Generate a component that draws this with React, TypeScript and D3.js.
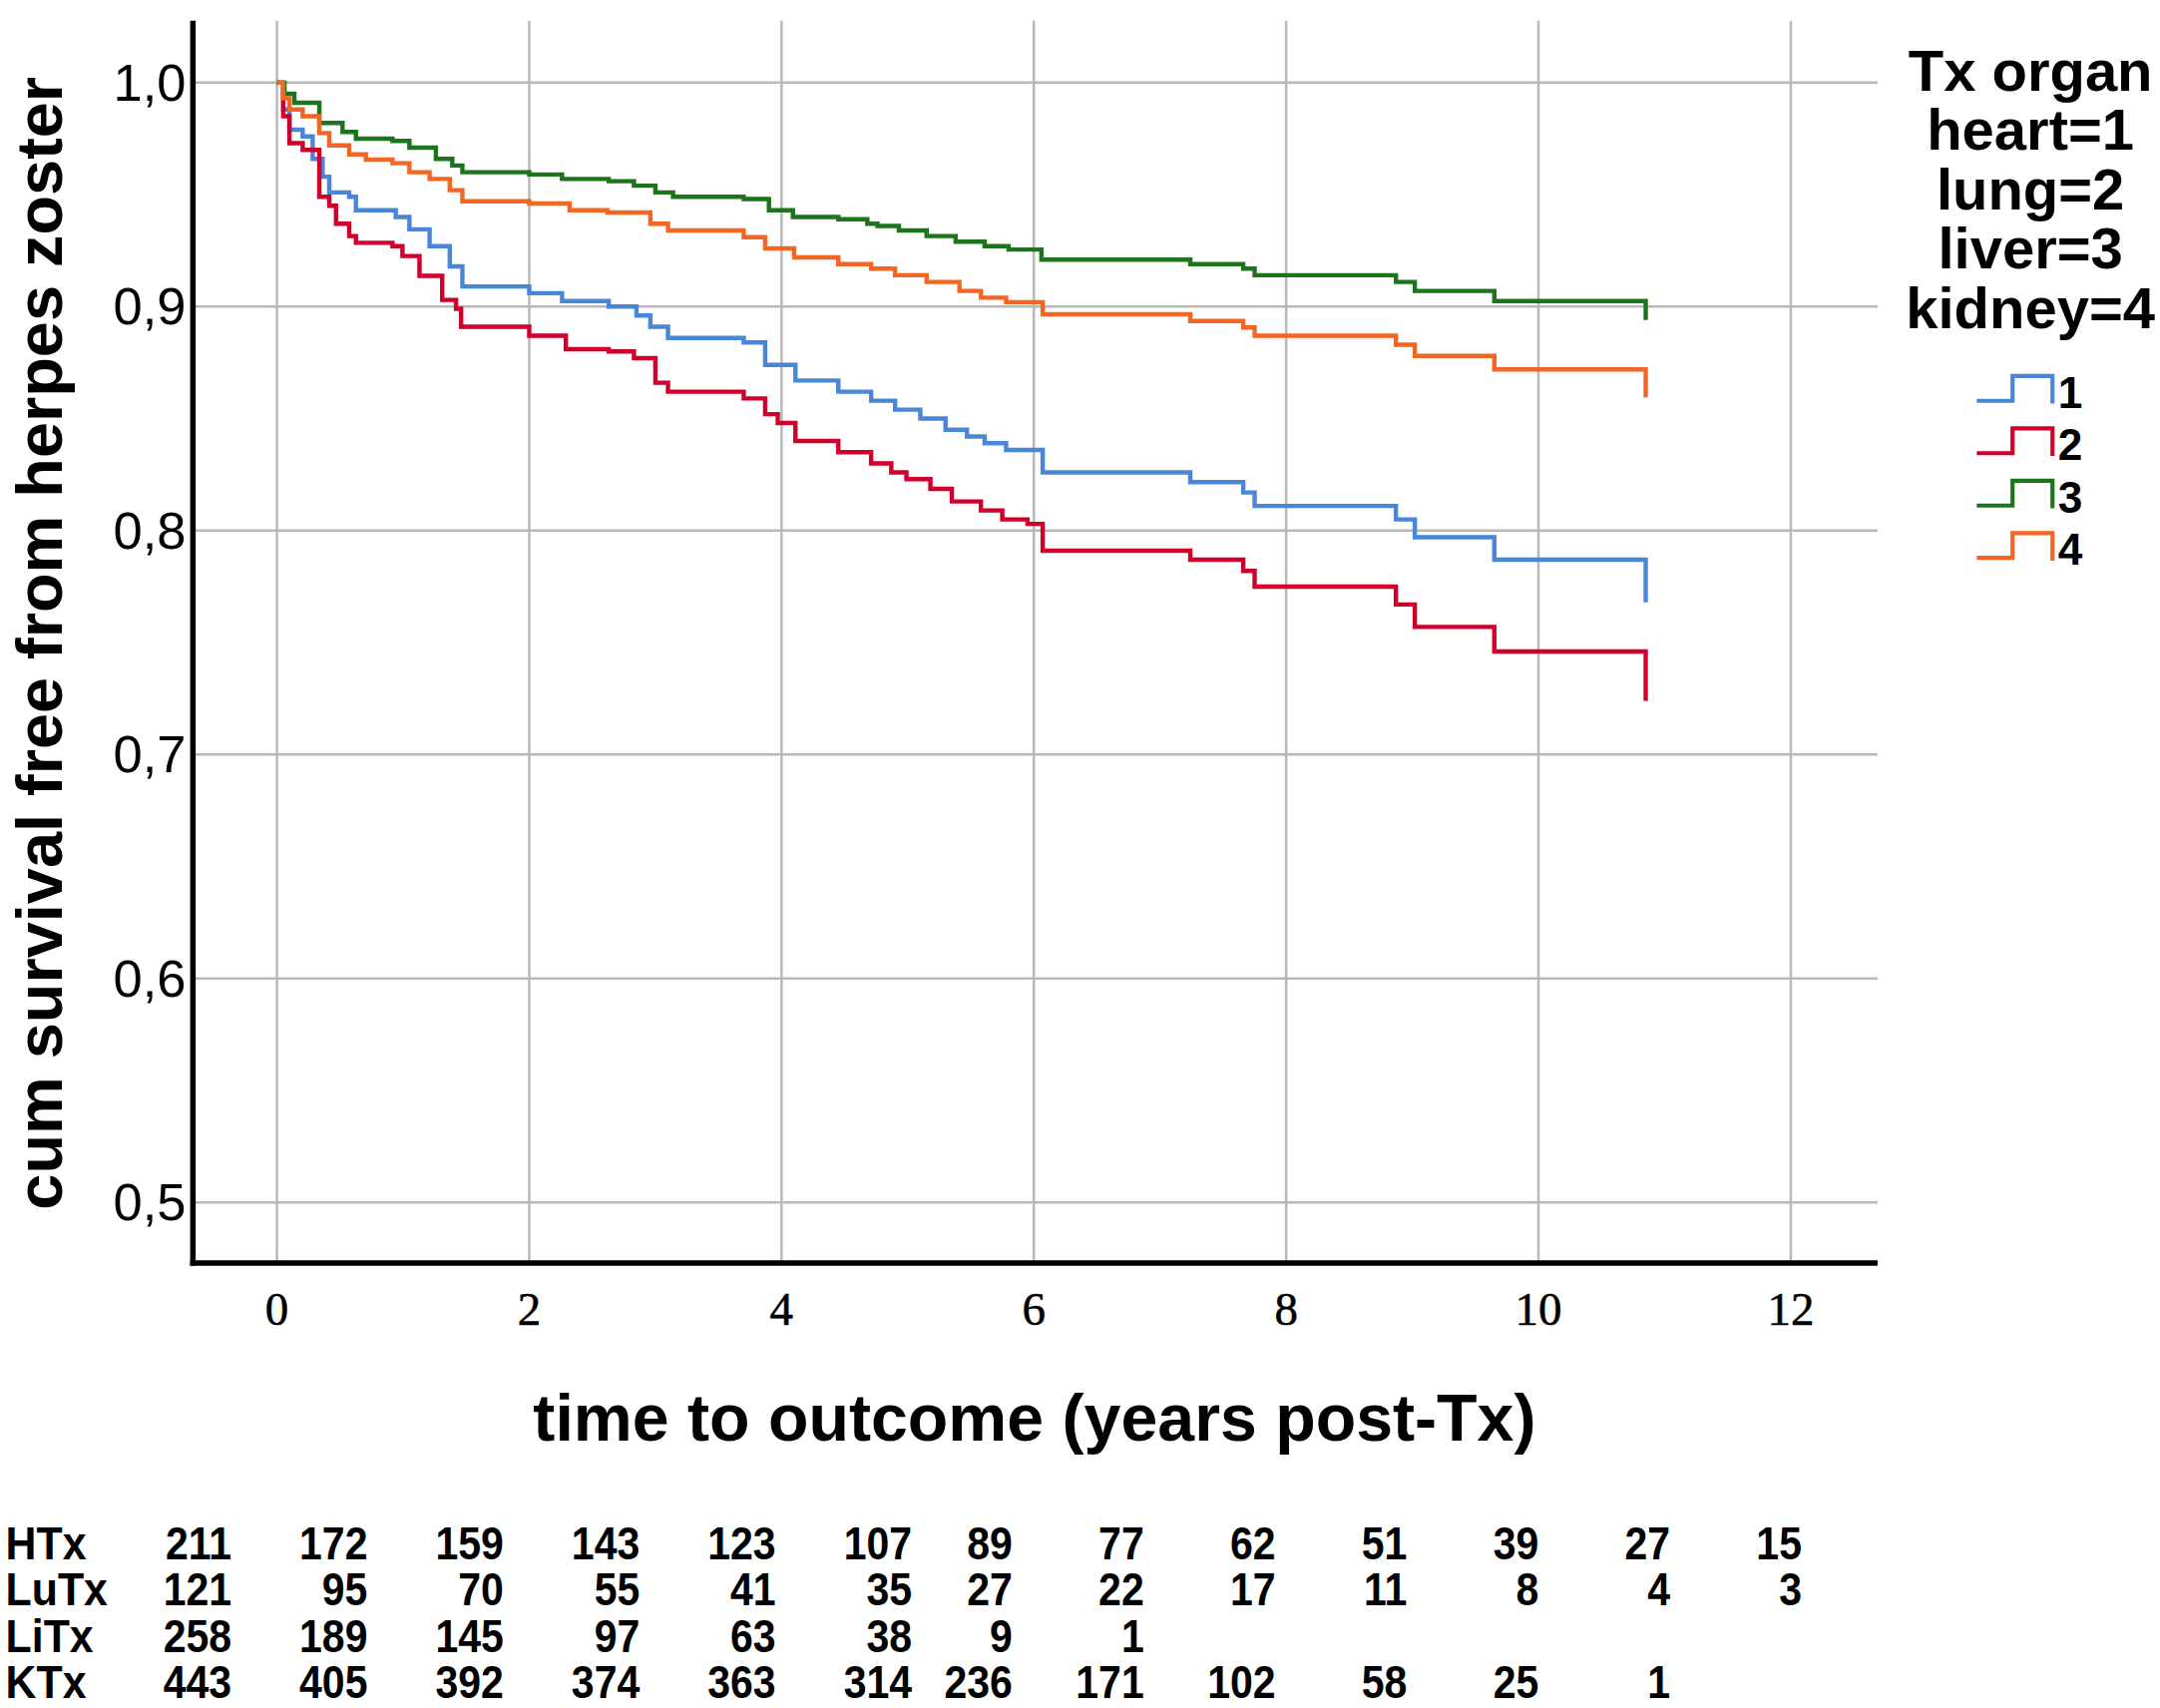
import * as d3 from 'd3';

// Kaplan-Meier estimates: [years, cum survival]
const heart: [number, number][] = [
  [0, 1.0], [0.05, 0.988], [0.099, 0.979], [0.204, 0.976], [0.283, 0.966], [0.362, 0.958],
  [0.415, 0.951], [0.573, 0.949], [0.626, 0.943], [0.942, 0.94], [1.05, 0.9345], [1.21, 0.927],
  [1.37, 0.918], [1.47, 0.909], [2.0, 0.906], [2.26, 0.9025], [2.63, 0.9], [2.85, 0.896],
  [2.96, 0.891], [3.1, 0.886], [3.7, 0.884], [3.87, 0.874], [4.11, 0.867], [4.45, 0.862],
  [4.71, 0.858], [4.9, 0.854], [5.1, 0.85], [5.3, 0.845], [5.47, 0.842], [5.61, 0.839],
  [5.78, 0.836], [6.07, 0.826], [7.24, 0.8216], [7.66, 0.817], [7.75, 0.811], [8.87, 0.805],
  [9.02, 0.797], [9.65, 0.787], [10.85, 0.768],
];
const lung: [number, number][] = [
  [0, 1.0], [0.05, 0.985], [0.099, 0.973], [0.204, 0.97], [0.336, 0.949], [0.415, 0.945],
  [0.468, 0.937], [0.573, 0.9315], [0.626, 0.9285], [0.916, 0.927], [0.995, 0.9226],
  [1.13, 0.9137], [1.31, 0.903], [1.42, 0.899], [1.46, 0.891], [2.0, 0.887], [2.29, 0.881],
  [2.63, 0.88], [2.83, 0.877], [3.0, 0.866], [3.1, 0.862], [3.7, 0.859], [3.87, 0.852],
  [3.97, 0.848], [4.11, 0.84], [4.45, 0.835], [4.71, 0.83], [4.87, 0.826], [4.99, 0.823],
  [5.18, 0.8186], [5.35, 0.813], [5.58, 0.809], [5.75, 0.805], [5.95, 0.803], [6.07, 0.791],
  [7.24, 0.787], [7.66, 0.782], [7.75, 0.775], [8.87, 0.767], [9.02, 0.757], [9.65, 0.746],
  [10.85, 0.724],
];
const liver: [number, number][] = [
  [0, 1.0], [0.06, 0.995], [0.138, 0.991], [0.336, 0.982], [0.52, 0.978], [0.626, 0.975],
  [0.916, 0.974], [1.05, 0.971], [1.26, 0.966], [1.39, 0.963], [1.47, 0.96], [2.0, 0.959],
  [2.26, 0.957], [2.63, 0.956], [2.83, 0.954], [3.0, 0.951], [3.14, 0.949], [3.7, 0.948],
  [3.9, 0.943], [4.09, 0.94], [4.45, 0.939], [4.68, 0.937], [4.76, 0.936], [4.93, 0.934],
  [5.15, 0.9315], [5.38, 0.929], [5.61, 0.927], [5.8, 0.9255], [6.06, 0.921], [7.24, 0.919],
  [7.66, 0.917], [7.75, 0.914], [8.87, 0.911], [9.02, 0.907], [9.65, 0.9025], [10.85, 0.894],
];
const kidney: [number, number][] = [
  [0, 1.0], [0.05, 0.993], [0.099, 0.988], [0.204, 0.985], [0.336, 0.9775], [0.415, 0.972],
  [0.573, 0.968], [0.705, 0.9656], [0.916, 0.964], [1.05, 0.96], [1.21, 0.957], [1.37, 0.952],
  [1.47, 0.947], [2.0, 0.946], [2.32, 0.943], [2.62, 0.942], [2.96, 0.937], [3.1, 0.934],
  [3.7, 0.931], [3.87, 0.926], [4.1, 0.922], [4.45, 0.919], [4.71, 0.917], [4.9, 0.914],
  [5.15, 0.911], [5.41, 0.907], [5.58, 0.904], [5.78, 0.902], [6.07, 0.8966], [7.24, 0.8936],
  [7.66, 0.8907], [7.75, 0.887], [8.87, 0.883], [9.02, 0.878], [9.65, 0.872], [10.85, 0.8595],
];

const series = [heart, lung, liver, kidney];
const groups = ['1', '2', '3', '4'];
const colors = ['#4a86d8', '#d0002c', '#1c741c', '#f26522'];
const legendTitle = ['Tx organ', 'heart=1', 'lung=2', 'liver=3', 'kidney=4'];

const xTicks = [0, 2, 4, 6, 8, 10, 12];
const yTicks = [0.5, 0.6, 0.7, 0.8, 0.9, 1.0];

// numbers at risk
const riskLabels = ['HTx', 'LuTx', 'LiTx', 'KTx'];
const riskHTx = [211, 172, 159, 143, 123, 107, 89, 77, 62, 51, 39, 27, 15];
const riskLuTx = [121, 95, 70, 55, 41, 35, 27, 22, 17, 11, 8, 4, 3];
const riskLiTx = [258, 189, 145, 97, 63, 38, 9, 1];
const riskKTx = [443, 405, 392, 374, 363, 314, 236, 171, 102, 58, 25, 1];
const riskRows = [riskHTx, riskLuTx, riskLiTx, riskKTx];

const W = 1568;
const H = 1240;
const sans = '"Liberation Sans", Arial, sans-serif';
const serif = '"Liberation Serif", "Times New Roman", serif';

export default function App() {
  const box = { left: 140, right: 1363, top: 15, bottom: 917 };
  const x = d3.scaleLinear().domain([0, 12]).range([201, 1300]);
  const y = d3.scaleLinear().domain([0.5, 1.0]).range([873, 60]);
  const line = d3
    .line<[number, number]>()
    .x((d) => x(d[0]))
    .y((d) => y(d[1]))
    .curve(d3.curveStepAfter);
  const fmt = (v: number) => d3.format('.1f')(v).replace('.', ',');

  // right edges of the at-risk columns
  const colX = d3.scaleLinear().domain([0, 5, 6, 12]).range([168, 662, 735, 1308]);
  const rowY = d3.scaleLinear().domain([0, 3]).range([1132, 1233]);

  const legY = d3.scaleLinear().domain([0, 3]).range([283, 397]);
  const titleY = d3.scaleLinear().domain([0, 4]).range([66, 238]);

  return (
    <svg
      width={2165}
      height={1712}
      viewBox={`0 0 ${W} ${H}`}
      style={{ position: 'absolute', left: 0, top: 0, background: '#fff' }}
    >
      <rect width={W} height={H} fill="#fff" />

      {/* grid */}
      {xTicks.map((t) => (
        <line key={'gx' + t} x1={x(t)} x2={x(t)} y1={box.top} y2={box.bottom} stroke="#b8b8b8" strokeWidth={1.8} />
      ))}
      {yTicks.map((v) => (
        <line key={'gy' + v} x1={box.left} x2={box.right} y1={y(v)} y2={y(v)} stroke="#b8b8b8" strokeWidth={1.8} />
      ))}

      {/* curves */}
      {series.map((s, i) => (
        <path key={'s' + i} d={line(s) ?? ''} fill="none" stroke={colors[i]} strokeWidth={3.2} />
      ))}

      {/* axes */}
      <line x1={box.left} x2={box.left} y1={box.top} y2={box.bottom + 2} stroke="#000" strokeWidth={4} />
      <line x1={box.left - 2} x2={box.right} y1={box.bottom} y2={box.bottom} stroke="#000" strokeWidth={4} />

      {yTicks.map((v) => (
        <text key={'ty' + v} x={135} y={y(v) + 13} textAnchor="end" fontFamily={sans} fontSize={38} fill="#000">
          {fmt(v)}
        </text>
      ))}
      {xTicks.map((t) => (
        <text key={'tx' + t} x={x(t)} y={962} textAnchor="middle" fontFamily={serif} fontSize={34} fill="#000" stroke="#000" strokeWidth={0.4}>
          {t}
        </text>
      ))}

      <text
        transform={`translate(45,467) rotate(-90)`}
        textAnchor="middle"
        fontFamily={sans}
        fontWeight="bold"
        fontSize={47}
        fill="#000"
      >
        cum survival free from herpes zoster
      </text>
      <text x={751} y={1046} textAnchor="middle" fontFamily={sans} fontWeight="bold" fontSize={48} fill="#000">
        time to outcome (years post-Tx)
      </text>

      {/* legend */}
      {legendTitle.map((t, i) => (
        <text key={'lt' + i} x={1474} y={titleY(i)} textAnchor="middle" fontFamily={sans} fontWeight="bold" fontSize={42} fill="#000">
          {t}
        </text>
      ))}
      {groups.map((g, i) => {
        const c = legY(i);
        return (
          <g key={'lg' + g}>
            <path
              d={`M1435,${c + 8}H1461V${c - 10}H1490V${c + 10}`}
              fill="none"
              stroke={colors[i]}
              strokeWidth={3}
            />
            <text x={1494} y={c + 13} fontFamily={sans} fontWeight="bold" fontSize={32} fill="#000">
              {g}
            </text>
          </g>
        );
      })}

      {/* numbers at risk */}
      {riskLabels.map((lab, r) => (
        <g key={'r' + lab}>
          <text
            transform={`translate(4,${rowY(r)}) scale(0.94,1)`}
            fontFamily={sans}
            fontWeight="bold"
            fontSize={33}
            fill="#000"
          >
            {lab}
          </text>
          {riskRows[r].map((n, j) => (
            <text
              key={j}
              transform={`translate(${colX(j)},${rowY(r)}) scale(0.9,1)`}
              textAnchor="end"
              fontFamily={sans}
              fontWeight="bold"
              fontSize={33}
              fill="#000"
            >
              {n}
            </text>
          ))}
        </g>
      ))}
    </svg>
  );
}
